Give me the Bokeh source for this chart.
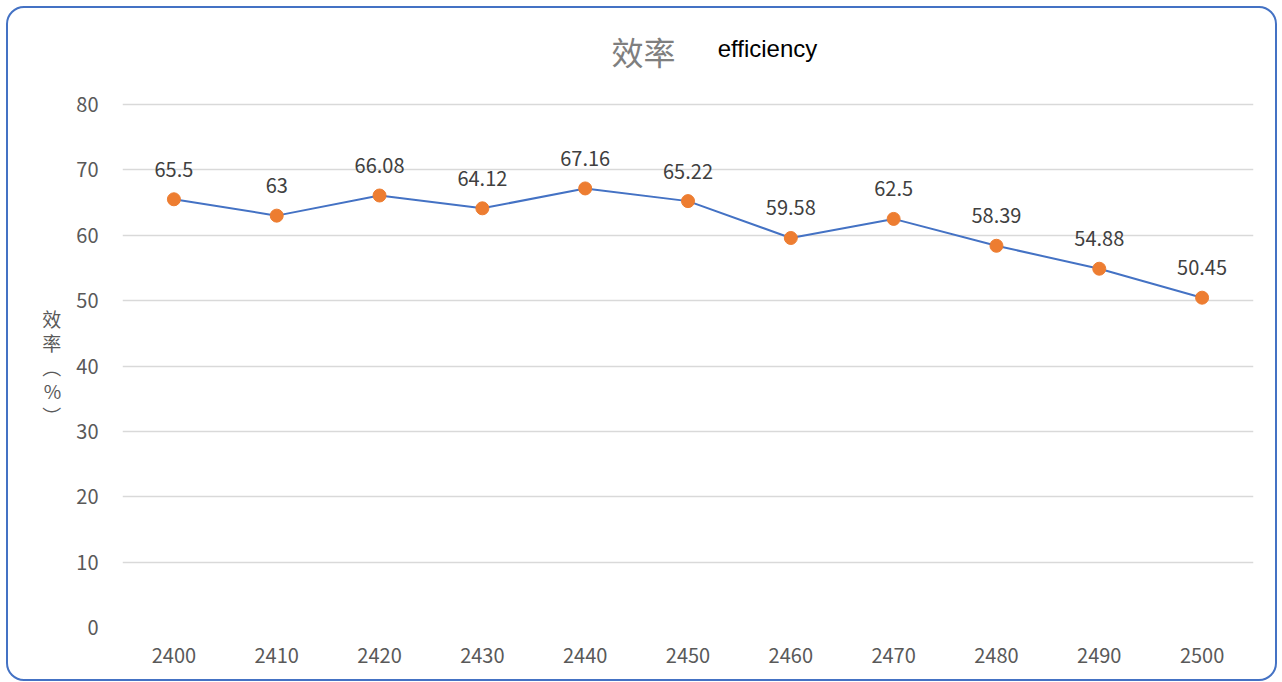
import math
from bokeh.plotting import figure
from bokeh.models import ColumnDataSource, Range1d, Label, FixedTicker
from bokeh.core.properties import value
from bokeh.embed import file_html
from bokeh.resources import INLINE

freqs = ["2400", "2410", "2420", "2430", "2440", "2450", "2460", "2470", "2480", "2490", "2500"]
efficiency = [65.5, 63, 66.08, 64.12, 67.16, 65.22, 59.58, 62.5, 58.39, 54.88, 50.45]
labels = ["65.5", "63", "66.08", "64.12", "67.16", "65.22", "59.58", "62.5", "58.39", "54.88", "50.45"]
y_ticks = [0, 10, 20, 30, 40, 50, 60, 70, 80]

FONT = "Noto Sans CJK SC"
GRAY = "#595959"

src = ColumnDataSource(dict(x=freqs, y=efficiency, lab=labels))

# layout (page pixels): frame left 122, right 1253, y=80 at 104, y=0 at 627
FL, FR, Y80, Y0 = 122, 1253, 104, 627
PX_PER_UNIT = (Y0 - Y80) / 80.0
CANVAS_TOP = 8
y_end = 80 + (Y80 - CANVAS_TOP) / PX_PER_UNIT

W, H = 1271, 675
p = figure(x_range=freqs, y_range=Range1d(0, y_end), width=W, height=H,
           output_backend="svg", toolbar_location=None,
           min_border_left=114, min_border_right=26, min_border_top=0, min_border_bottom=56)
p.margin = (6, 0, 0, 6)
p.styles = {"border": "2px solid #4472C4", "border-radius": "18px", "box-sizing": "border-box"}
p.outline_line_color = None
p.background_fill_color = "white"
p.border_fill_color = None

p.yaxis.ticker = FixedTicker(ticks=y_ticks)
for ax in (p.xaxis[0], p.yaxis[0]):
    ax.axis_line_color = None
    ax.major_tick_line_color = None
    ax.minor_tick_line_color = None
    ax.major_label_text_font = FONT
    ax.major_label_text_font_size = "20px"
    ax.major_label_text_color = GRAY
p.xaxis.major_label_standoff = 14
p.yaxis.major_label_standoff = 18

p.yaxis.axis_label = "\u3000\n\u3000\n\u3000\n\u3000\n效\n率\n︵\n%\n︶"
p.yaxis.axis_label_orientation = "horizontal"
p.yaxis.axis_label_text_font = FONT
p.yaxis.axis_label_text_font_size = "19px"
p.yaxis.axis_label_text_font_style = "normal"
p.yaxis.axis_label_text_color = GRAY
p.yaxis.axis_label_text_line_height = 0.9
p.yaxis.axis_label_standoff = 12

p.xgrid.grid_line_color = None
p.ygrid.grid_line_color = "#D9D9D9"
p.ygrid.grid_line_width = 1.5

p.line("x", "y", source=src, line_color="#4472C4", line_width=2)
p.scatter("x", "y", source=src, size=13, fill_color="#ED7D31", line_color="#ED7D31")
p.text("x", "y", text="lab", source=src, text_align="center", text_baseline="middle",
       y_offset=-30, text_font=value(FONT), text_font_size="20px", text_color="#404040")

CAT_W = (FR - FL) / len(freqs)

def lab(px, py, text, font, size, color):
    p.add_layout(Label(x=(px - FL) / CAT_W, y=80 + (Y80 - py) / PX_PER_UNIT,
                       text=text, text_align="center", text_baseline="middle",
                       text_font=font, text_font_size=size, text_color=color))

lab(643, 50, "效率", FONT, "32px", "#7F7F7F")
lab(767, 48, "efficiency", "Liberation Sans", "24px", "black")

open("out.html", "w").write(file_html(p, INLINE))
